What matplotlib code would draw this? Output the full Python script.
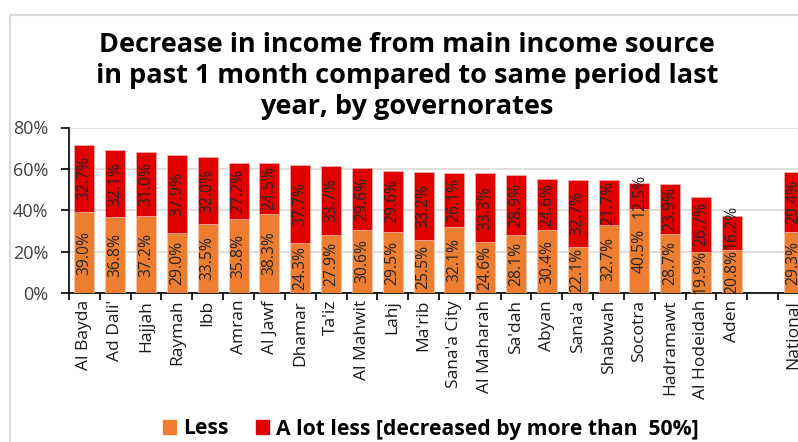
import matplotlib.pyplot as plt
import matplotlib.patches as mpatches
import numpy as np

# Governorates, sorted as in the source chart, plus the national figure
governorates = ["Al Bayda", "Ad Dali'", "Hajjah", "Raymah", "Ibb", "Amran", "Al Jawf",
                "Dhamar", "Ta'iz", "Al Mahwit", "Lahj", "Ma'rib", "Sana'a City",
                "Al Maharah", "Sa'dah", "Abyan", "Sana'a", "Shabwah", "Socotra",
                "Hadramawt", "Al Hodeidah", "Aden"]
national_label = "National"

less = [39.0, 36.8, 37.2, 29.0, 33.5, 35.8, 38.3, 24.3, 27.9, 30.6, 29.5, 25.5,
        32.1, 24.6, 28.1, 30.4, 22.1, 32.7, 40.5, 28.7, 19.9, 20.8]
a_lot_less = [32.7, 32.1, 31.0, 37.9, 32.0, 27.2, 24.5, 37.7, 33.7, 29.6, 29.6, 33.2,
              26.1, 33.3, 28.9, 24.6, 32.7, 21.7, 12.5, 23.9, 26.7, 16.2]
national_less = 29.3
national_a_lot_less = 29.4

plt.rcParams['font.family'] = ['Open Sans', 'DejaVu Sans']

ORANGE = '#ED7D31'
RED = '#E00000'

labels = governorates + ["", national_label]
v_less = np.array(less + [np.nan, national_less]) / 100
v_lot = np.array(a_lot_less + [np.nan, national_a_lot_less]) / 100
x = np.arange(len(labels))

fig = plt.figure(figsize=(7.98, 4.42), dpi=100)

# light grey frame around the chart area (cut off at right and bottom)
fig.patches.append(mpatches.Rectangle((10 / 798, -0.1), 1.0, 1 - 15 / 442 + 0.1,
                                      transform=fig.transFigure, fill=False,
                                      edgecolor='#D9D9D9', linewidth=1.5))

ax = fig.add_axes([69 / 798, 1 - 293 / 442, 740 / 798, (293 - 127.5) / 442])

mask = ~np.isnan(v_less)
ax.bar(x[mask], v_less[mask], width=0.65, color=ORANGE, edgecolor='#F8CBAD', linewidth=0.5, zorder=3)
ax.bar(x[mask], v_lot[mask], width=0.65, bottom=v_less[mask], color=RED,
       edgecolor='#F4B0B0', linewidth=0.5, zorder=3)

# data labels in the middle of each segment; the upper one is nudged up
# when the segments are too short for both labels
label_h = 0.215
for xi, a, b in zip(x[mask], v_less[mask], v_lot[mask]):
    y_low = a / 2
    y_up = max(a + b / 2, y_low + label_h)
    ax.text(xi, y_low, f"{a * 100:.1f}%", rotation=90, ha='center', va='center',
            fontsize=11.3, color='#262626', zorder=4)
    ax.text(xi, y_up, f"{b * 100:.1f}%", rotation=90, ha='center', va='center',
            fontsize=11.3, color='#262626', zorder=4)

ax.set_xlim(-0.5, len(labels) - 0.5)
ax.set_ylim(0, 0.8)
ax.set_yticks([0, 0.2, 0.4, 0.6, 0.8])
ax.set_yticklabels(['0%', '20%', '40%', '60%', '80%'], fontsize=13, color='#404040')
ax.yaxis.grid(True, color='#D9D9D9', linewidth=1.2, zorder=0)

ax.set_xticks(x)
ax.set_xticklabels(labels, rotation=90, fontsize=12.5, color='#1a1a1a')
ax.tick_params(axis='x', length=0, pad=5)
ax.set_xticks(np.arange(-0.5, len(labels)), minor=True)
ax.tick_params(axis='x', which='minor', length=5, width=1.2, direction='out', color='black')
ax.tick_params(axis='y', length=6, width=1.2, color='black', pad=9)

for side in ['top', 'right']:
    ax.spines[side].set_visible(False)
ax.spines['left'].set_linewidth(1.2)
ax.spines['bottom'].set_linewidth(1.2)

fig.text(0.51, 1 - 76 / 442,
         "Decrease in income from main income source\n"
         "in past 1 month compared to same period last\n"
         "year, by governorates",
         ha='center', va='center', fontsize=19.5, fontweight='bold',
         linespacing=1.27, color='black')

handles = [mpatches.Patch(color=ORANGE, label='Less'),
           mpatches.Patch(color=RED, label='A lot less [decreased by more than  50%]')]
fig.legend(handles=handles, loc='center', bbox_to_anchor=(431 / 798, 1 - 429 / 442),
           ncol=2, frameon=False, prop={'weight': 'bold', 'size': 15.2},
           handlelength=0.6, handleheight=0.6, handletextpad=0.35, columnspacing=1.3)

plt.savefig('out.png', dpi=100)
